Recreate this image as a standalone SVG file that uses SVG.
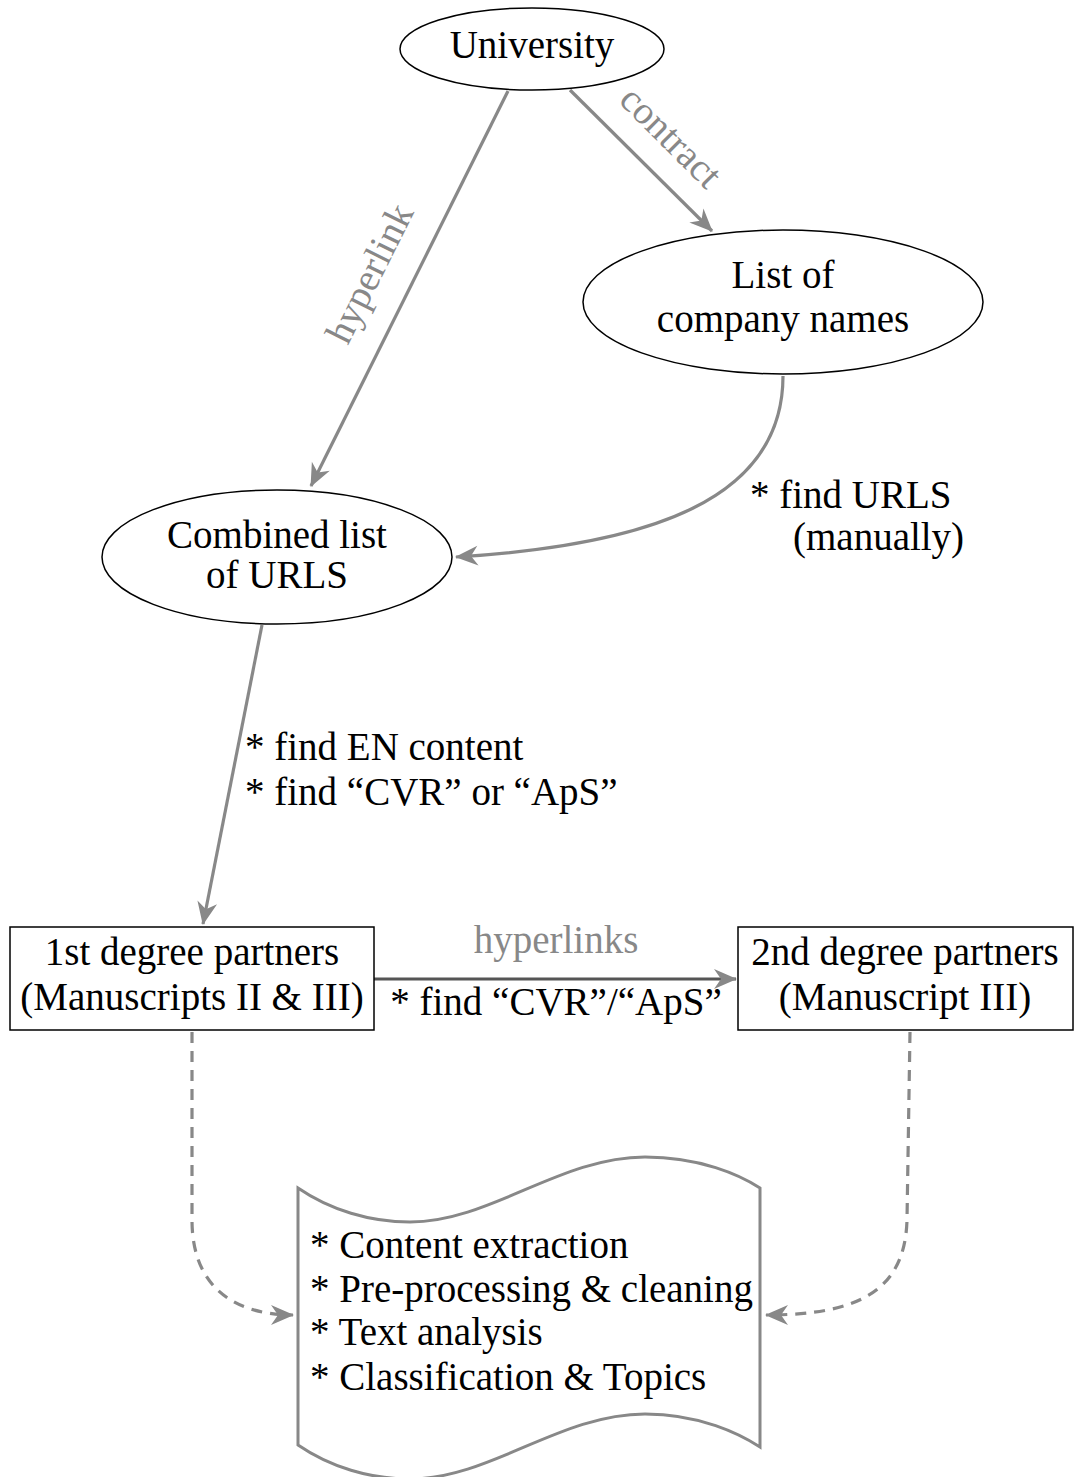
<svg xmlns="http://www.w3.org/2000/svg" width="1075" height="1477" viewBox="0 0 1075 1477">
<defs>
<style>
text{font-family:"Liberation Serif","Times New Roman",serif;font-size:39px;fill:#000}
.lbl{fill:#888}
.node{fill:#fff;stroke:#000;stroke-width:1.5}
.edge{fill:none;stroke:#888;stroke-width:3.2}
.dark{stroke:#555}
.dash{stroke-dasharray:11 8}
.mid{text-anchor:middle}
</style>
<marker id="arr" viewBox="-24 -12 26 24" refX="0" refY="0" markerWidth="26" markerHeight="24" markerUnits="userSpaceOnUse" orient="auto">
<path d="M1,0 L-22,-10 L-15,0 L-22,10 Z" fill="#888"/>
</marker>
</defs>
<rect width="1075" height="1477" fill="#fff"/>
<g id="connectors">
<path class="edge" d="M508,91 L311,486" marker-end="url(#arr)"/>
<path class="edge" d="M570,90 L712,231" marker-end="url(#arr)"/>
<path class="edge" d="M783,376 C783,500 650,545 456,557" marker-end="url(#arr)"/>
<path class="edge" d="M262,625 L203,924" marker-end="url(#arr)"/>
<path class="edge dark" d="M374,979 L736,979" marker-end="url(#arr)"/>
<path class="edge dash" d="M192,1032 L192,1220 C192,1290 238,1315 293,1315" marker-end="url(#arr)"/>
<path class="edge dash" d="M910,1032 L907,1220 C905,1290 860,1315 766,1315" marker-end="url(#arr)"/>
<text class="lbl mid" transform="translate(662,146) rotate(45)">contract</text>
<text class="lbl mid" transform="translate(381,279) rotate(-63.5)">hyperlink</text>
<text x="750" y="508">* find URLS</text>
<text x="793" y="550">(manually)</text>
<text x="245" y="760">* find EN content</text>
<text x="245" y="805">* find “CVR” or “ApS”</text>
<text class="lbl mid" x="556" y="953">hyperlinks</text>
<text class="mid" x="556" y="1015">* find “CVR”/“ApS”</text>
</g>
<g id="university">
<ellipse class="node" cx="532" cy="49" rx="132" ry="41"/>
<text class="mid" x="532" y="58">University</text>
</g>
<g id="company-list">
<ellipse class="node" cx="783" cy="302" rx="200" ry="72"/>
<text class="mid" x="783" y="288">List of</text>
<text class="mid" x="783" y="332">company names</text>
</g>
<g id="combined-list">
<ellipse class="node" cx="277" cy="557" rx="175" ry="67"/>
<text class="mid" x="277" y="548">Combined list</text>
<text class="mid" x="277" y="588">of URLS</text>
</g>
<g id="first-degree">
<rect class="node" x="10" y="927" width="364" height="103"/>
<text class="mid" x="192" y="965">1st degree partners</text>
<text class="mid" x="192" y="1010">(Manuscripts II &amp; III)</text>
</g>
<g id="second-degree">
<rect class="node" x="738" y="927" width="335" height="103"/>
<text class="mid" x="905" y="965">2nd degree partners</text>
<text class="mid" x="905" y="1010">(Manuscript III)</text>
</g>
<g id="analysis">
<path d="M298,1188 C330,1210 370,1222 410,1222 C490,1222 560,1157 645,1157 C700,1157 740,1175 760,1188 L760,1447 C740,1434 700,1414 645,1414 C560,1414 490,1479 410,1479 C370,1479 330,1467 298,1445 Z" fill="#fff" stroke="#888" stroke-width="3"/>
<text x="310" y="1258">* Content extraction</text>
<text x="310" y="1302">* Pre-processing &amp; cleaning</text>
<text x="310" y="1345">* Text analysis</text>
<text x="310" y="1390">* Classification &amp; Topics</text>
</g>
</svg>
